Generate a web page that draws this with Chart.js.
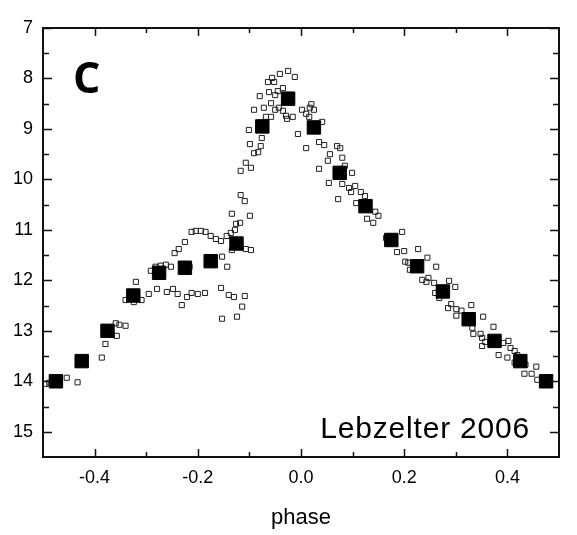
<!DOCTYPE html>
<html>
<head>
<meta charset="utf-8">
<script src="https://cdn.jsdelivr.net/npm/chart.js@4.4.1/dist/chart.umd.min.js"></script>
<style>
  html, body { margin: 0; padding: 0; background: #ffffff; }
  #wrap { width: 577px; height: 535px; position: relative; }
</style>
</head>
<body>
<div id="wrap"><canvas id="c" width="577" height="535"></canvas></div>
<script>
// ---- data ----
const binnedPhase = [-0.475,-0.425,-0.375,-0.325,-0.275,-0.225,-0.175,-0.125,-0.075,-0.025,0.025,0.075,0.125,0.175,0.225,0.275,0.325,0.375,0.425,0.475];
const binnedMag   = [14.0,13.6,13.0,12.3,11.85,11.75,11.62,11.27,8.95,8.4,8.97,9.87,10.53,11.2,11.72,12.22,12.77,13.2,13.6,14.0];

const obsPhase = [
 -0.495,-0.488,-0.454,-0.433,-0.386,-0.379,-0.357,-0.359,-0.352,-0.340,
 -0.340,-0.324,-0.309,-0.320,-0.295,-0.291,-0.282,-0.272,-0.262,-0.252,
 -0.279,-0.260,-0.248,-0.239,-0.231,-0.221,-0.212,-0.200,-0.186,-0.216,
 -0.155,-0.153,-0.143,-0.140,-0.130,-0.124,-0.114,-0.109,
 -0.245,-0.237,-0.225,-0.212,-0.204,-0.194,-0.185,-0.175,-0.165,-0.155,
 -0.144,-0.136,-0.128,-0.126,-0.118,-0.134,-0.099,-0.117,-0.109,
 -0.134,-0.107,-0.097,-0.153,
 -0.117,-0.107,-0.097,-0.101,-0.099,-0.091,-0.083,-0.078,-0.076,
 -0.091,-0.080,-0.072,-0.068,-0.058,-0.058,-0.062,-0.050,-0.045,-0.050,-0.043,
 -0.035,-0.035,-0.029,-0.027,-0.016,-0.064,-0.056,-0.052,-0.041,-0.025,-0.012,
 0.002,0.010,0.017,0.020,0.025,0.016,-0.006,0.010,0.041,
 0.035,0.045,0.070,0.076,0.056,0.052,0.080,0.035,0.085,0.099,
 0.054,0.080,0.093,0.097,0.105,0.116,0.124,0.072,0.107,
 0.144,0.150,0.128,0.140,0.196,0.186,0.200,0.227,0.165,
 0.202,0.208,0.211,0.245,0.235,0.243,
 0.262,0.247,0.258,0.287,0.299,0.260,0.268,0.291,0.285,0.301,0.311,0.301,0.330,
 0.353,0.332,0.334,0.348,0.351,0.351,0.373,0.357,0.383,0.392,0.402,0.406,0.414,0.400,0.419,0.414,0.435,0.456,0.433,0.447,0.458
];
const obsMag = [
 14.05,14.03,13.93,14.02,13.53,13.26,13.10,12.85,12.88,12.90,
 12.39,12.43,12.39,12.03,12.27,11.81,11.73,11.71,11.69,11.73,
 12.17,12.23,12.17,12.27,12.49,12.33,12.25,12.27,12.25,11.73,
 12.15,12.76,11.73,12.29,12.33,12.72,12.52,12.31,
 11.46,11.38,11.24,11.04,11.02,11.02,11.04,11.12,11.18,11.22,
 11.12,11.06,11.00,10.88,10.86,10.68,10.72,10.31,10.43,
 11.40,11.38,11.40,11.53,
 9.83,9.67,9.77,9.02,9.30,9.48,9.46,9.34,9.18,
 8.62,8.35,8.58,8.76,8.76,8.49,8.27,8.33,8.25,8.62,8.58,
 8.19,8.64,8.74,8.80,8.76,8.07,7.99,8.07,7.91,7.85,7.97,
 8.62,8.70,8.58,8.51,8.62,8.76,9.10,9.38,8.86,
 9.26,9.32,9.34,9.38,9.50,9.63,9.57,9.79,9.73,9.87,
 10.07,10.09,10.17,10.25,10.13,10.25,10.33,10.39,10.47,
 10.64,10.72,10.78,10.86,11.04,11.44,11.42,11.38,11.16,
 11.63,11.65,11.79,11.55,11.99,12.03,
 11.73,11.95,12.05,12.01,12.13,12.25,12.35,12.47,12.55,12.57,12.60,12.70,12.49,
 12.72,12.94,13.06,13.06,13.14,13.30,12.92,13.22,13.48,13.24,13.20,13.34,13.40,13.53,13.48,13.63,13.67,13.71,13.85,13.85,13.97
];

const xTickValues = [-0.4, -0.2, 0, 0.2, 0.4];
const xTickLabels = ['-0.4', '-0.2', '0.0', '0.2', '0.4'];
const xMinorTicks = [-0.3, -0.1, 0.1, 0.3];
const yTickValues = [7, 8, 9, 10, 11, 12, 13, 14, 15];
const yTickLabels = ['7', '8', '9', '10', '11', '12', '13', '14', '15'];
const yMinorTicks = [7.5, 8.5, 9.5, 10.5, 11.5, 12.5, 13.5, 14.5];
const xTitle = 'phase';
const panelLabel = 'C';
const sourceLabel = 'Lebzelter 2006';

// ---- build datasets ----
const binnedPoints = binnedPhase.map((x, i) => ({ x: x, y: binnedMag[i] }));
const obsPoints = obsPhase.map((x, i) => ({ x: x, y: obsMag[i] }));

Chart.defaults.font.family = "'Liberation Sans', Arial, Helvetica, sans-serif";
Chart.defaults.color = '#000';

const framePlugin = {
  id: 'framePlugin',
  afterDraw(chart) {
    const ctx = chart.ctx;
    const a = chart.chartArea;
    const xs = chart.scales.x, ys = chart.scales.y;
    ctx.save();
    ctx.strokeStyle = '#111';
    ctx.lineWidth = 1.5;
    ctx.beginPath();
    const xt = (vals, len) => vals.forEach(v => {
      const px = Math.round(xs.getPixelForValue(v)) + 0.5;
      ctx.moveTo(px, a.bottom); ctx.lineTo(px, a.bottom - len);
      ctx.moveTo(px, a.top); ctx.lineTo(px, a.top + len);
    });
    const yt = (vals, len) => vals.forEach(v => {
      const py = Math.round(ys.getPixelForValue(v)) + 0.5;
      ctx.moveTo(a.left, py); ctx.lineTo(a.left + len, py);
      ctx.moveTo(a.right, py); ctx.lineTo(a.right - len, py);
    });
    xt(xTickValues, 8); xt(xMinorTicks, 5);
    yt(yTickValues, 9); yt(yMinorTicks, 6);
    ctx.stroke();
    ctx.lineWidth = 2;
    ctx.strokeStyle = '#111';
    ctx.strokeRect(a.left, a.top, a.right - a.left, a.bottom - a.top);

    ctx.fillStyle = '#000';
    ctx.font = "bold 43px 'Open Sans', 'DejaVu Sans', sans-serif";
    ctx.textAlign = 'left';
    ctx.textBaseline = 'alphabetic';
    ctx.fillText(panelLabel, a.left + 30, a.top + 65);

    ctx.font = "30px 'Liberation Sans', Arial, sans-serif";
    ctx.textAlign = 'right';
    if ('letterSpacing' in ctx) ctx.letterSpacing = '0.8px';
    ctx.fillText(sourceLabel, a.left + 487, a.top + 410);
    ctx.restore();
  }
};

new Chart(document.getElementById('c'), {
  type: 'scatter',
  data: {
    datasets: [
      {
        label: 'binned',
        data: binnedPoints,
        order: 0,
        pointStyle: 'rect',
        pointRadius: 9.5,
        pointHoverRadius: 9.5,
        backgroundColor: '#000',
        borderColor: '#000',
        borderWidth: 1
      },
      {
        label: 'observed',
        data: obsPoints,
        order: 1,
        pointStyle: 'rect',
        pointRadius: 3.6,
        pointHoverRadius: 3.6,
        backgroundColor: 'rgba(255,255,255,0)',
        borderColor: '#222',
        borderWidth: 1
      }
    ]
  },
  options: {
    responsive: false,
    animation: false,
    events: [],
    layout: { padding: { left: 0, top: 28, right: 18, bottom: 0 } },
    plugins: { legend: { display: false }, tooltip: { enabled: false } },
    scales: {
      x: {
        type: 'linear',
        min: -0.5,
        max: 0.5,
        afterBuildTicks: (s) => { s.ticks = xTickValues.map(v => ({ value: v })); },
        afterFit: (s) => { s.height = 78; },
        grid: { display: false, drawTicks: false },
        border: { display: false },
        ticks: {
          autoSkip: false,
          maxRotation: 0,
          padding: 10,
          font: { size: 18 },
          color: '#000',
          callback: (v, i) => xTickLabels[i]
        },
        title: {
          display: true,
          text: xTitle,
          font: { size: 22 },
          color: '#000',
          padding: { top: 0, bottom: 4 }
        }
      },
      y: {
        type: 'linear',
        reverse: true,
        min: 7,
        max: 15.5,
        afterBuildTicks: (s) => { s.ticks = yTickValues.map(v => ({ value: v })); },
        afterFit: (s) => { s.width = 43; },
        grid: { display: false, drawTicks: false },
        border: { display: false },
        ticks: {
          autoSkip: false,
          padding: 10,
          font: { size: 18 },
          color: '#000',
          callback: (v, i) => yTickLabels[i]
        }
      }
    }
  },
  plugins: [framePlugin]
});
</script>
</body>
</html>
